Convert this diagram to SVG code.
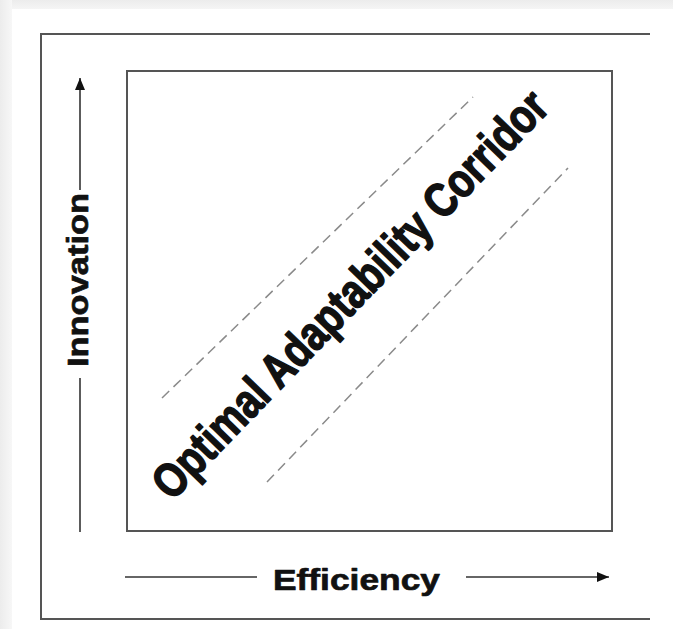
<svg xmlns="http://www.w3.org/2000/svg" width="673" height="629" viewBox="0 0 673 629">
  <style>
    .frame { fill: none; stroke: #555; stroke-width: 2; }
    .axis { fill: none; stroke: #333; stroke-width: 1.6; }
    .dash { fill: none; stroke: #8a8a8a; stroke-width: 1.5; stroke-dasharray: 10 6; }
    .lbl { font-family: "Liberation Sans", Arial, sans-serif; font-weight: bold; fill: #111; stroke: #111; stroke-width: 0.7; stroke-linejoin: round; }
    .big { stroke-width: 1.5; }
  </style>
  <defs>
    <linearGradient id="gTop" x1="0" y1="0" x2="0" y2="1">
      <stop offset="0" stop-color="#ececec"/>
      <stop offset="1" stop-color="#f5f5f5"/>
    </linearGradient>
    <linearGradient id="gLeft" x1="0" y1="0" x2="1" y2="0">
      <stop offset="0" stop-color="#ececec"/>
      <stop offset="1" stop-color="#f7f7f7"/>
    </linearGradient>
    <marker id="arrow" viewBox="0 0 12 10" refX="12" refY="5" markerWidth="12" markerHeight="10" markerUnits="userSpaceOnUse" orient="auto">
      <path d="M0,0 L12,5 L0,10 Z" fill="#111"/>
    </marker>
  </defs>

  <rect x="0" y="0" width="673" height="629" fill="#ffffff"/>
  <rect x="0" y="0" width="673" height="9" fill="url(#gTop)"/>
  <rect x="0" y="0" width="12" height="629" fill="url(#gLeft)"/>

  <g id="outer-frame">
    <path class="frame" d="M650,34 L41,34 L41,619 L650,619"/>
  </g>

  <g id="plot-box">
    <rect class="frame" x="127" y="71" width="485" height="460"/>
  </g>

  <g id="corridor">
    <line class="dash" x1="162" y1="398" x2="473" y2="97"/>
    <line class="dash" x1="267" y1="482" x2="568" y2="168"/>
    <text class="lbl big" transform="translate(172,502) rotate(-46)" x="0" y="0" font-size="48" textLength="546" lengthAdjust="spacingAndGlyphs">Optimal Adaptability Corridor</text>
  </g>

  <g id="innovation-label">
    <text class="lbl" transform="translate(88,280) rotate(-90)" x="0" y="0" font-size="30" text-anchor="middle" textLength="174" lengthAdjust="spacingAndGlyphs">Innovation</text>
  </g>

  <g id="efficiency-label">
    <text class="lbl" x="273" y="590" font-size="30" textLength="167" lengthAdjust="spacingAndGlyphs">Efficiency</text>
  </g>

  <g id="connectors">
    <line class="axis" x1="80" y1="532" x2="80" y2="378"/>
    <line class="axis" x1="80" y1="190" x2="80" y2="78" marker-end="url(#arrow)"/>
    <line class="axis" x1="125" y1="577" x2="257" y2="577"/>
    <line class="axis" x1="466" y1="577" x2="609" y2="577" marker-end="url(#arrow)"/>
  </g>
</svg>
